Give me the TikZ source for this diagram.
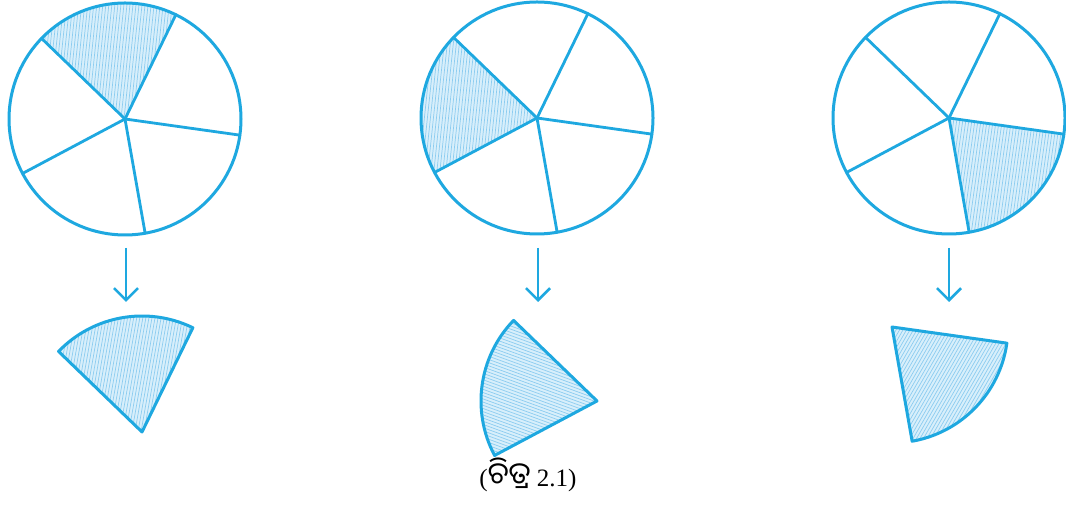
\documentclass[tikz,border=0pt]{standalone}
\usepackage{fontspec}
\setmainfont{Liberation Serif}
\newfontfamily\odia[Script=Oriya,Scale=1.2]{Noto Sans Oriya UI}
\usetikzlibrary{arrows.meta}
\definecolor{lineblue}{RGB}{30,168,224}
\definecolor{shadefill}{RGB}{216,239,251}
\definecolor{hatchcol}{RGB}{140,204,240}
\tikzset{
  outline/.style={draw=lineblue, line width=3pt, line join=round},
  spoke/.style={draw=lineblue, line width=2.8pt, line cap=round},
  hatchline/.style={draw=hatchcol, line width=0.7pt},
  downarrow/.style={draw=lineblue, line width=2.6pt, -{Straight Barb[length=12pt,width=24pt,line width=2.6pt]}}
}
% #1,#2 apex, #3 start angle, #4 hatch rotation
\newcommand\shadedsector[4]{%
  \begin{scope}
    \clip (#1,#2) -- ++(#3:116) arc[start angle=#3, delta angle=72, radius=116] -- cycle;
    \fill[shadefill] (#1-130,#2-130) rectangle (#1+130,#2+130);
    \begin{scope}[shift={(#1,#2)}, rotate=#4]
      \foreach \t in {-130,-127,...,130} \draw[hatchline] (\t,-130) -- (\t,130);
    \end{scope}
  \end{scope}}
\newcommand\fivecircle[3]{% center x,y, name
  \coordinate (#3) at (#1,#2);
  \draw[outline] (#3) circle[radius=116];
  \foreach \a in {64,136,208,280,352} \draw[spoke] (#3) -- ++(\a:116);}
\newcommand\loosesector[3]{% apex x,y, start
  \draw[outline] (#1,#2) -- ++(#3:116) arc[start angle=#3, delta angle=72, radius=116] -- cycle;}
\begin{document}
\begin{tikzpicture}[x=1pt,y=1pt]
  \useasboundingbox (0,0) rectangle (1066,511);
  \fill[white] (0,0) rectangle (1066,511);
  % circles with shaded parts
  \shadedsector{125}{392}{64}{-6}
  \fivecircle{125}{392}{c1}
  \shadedsector{537}{393}{136}{-6}
  \fivecircle{537}{393}{c2}
  \shadedsector{949}{393}{280}{-8}
  \fivecircle{949}{393}{c3}
  % arrows
  \coordinate (a1top) at (126,263); \coordinate (a1bot) at (126,209);
  \coordinate (a2top) at (538,263); \coordinate (a2bot) at (538,209);
  \coordinate (a3top) at (949,263); \coordinate (a3bot) at (949,209);
  \draw[downarrow] (a1top) -- (a1bot);
  \draw[downarrow] (a2top) -- (a2bot);
  \draw[downarrow] (a3top) -- (a3bot);
  % separated sectors
  \shadedsector{142}{79}{64}{-10}
  \loosesector{142}{79}{64}
  \shadedsector{597}{110}{136}{70}
  \loosesector{597}{110}{136}
  \shadedsector{892}{184}{280}{-30}
  \loosesector{892}{184}{280}
  % caption
  \node[font=\fontsize{25}{29}\selectfont] (cap) at (528,36) {({\odia ଚିତ୍ର} 2.1)};
\end{tikzpicture}
\end{document}
